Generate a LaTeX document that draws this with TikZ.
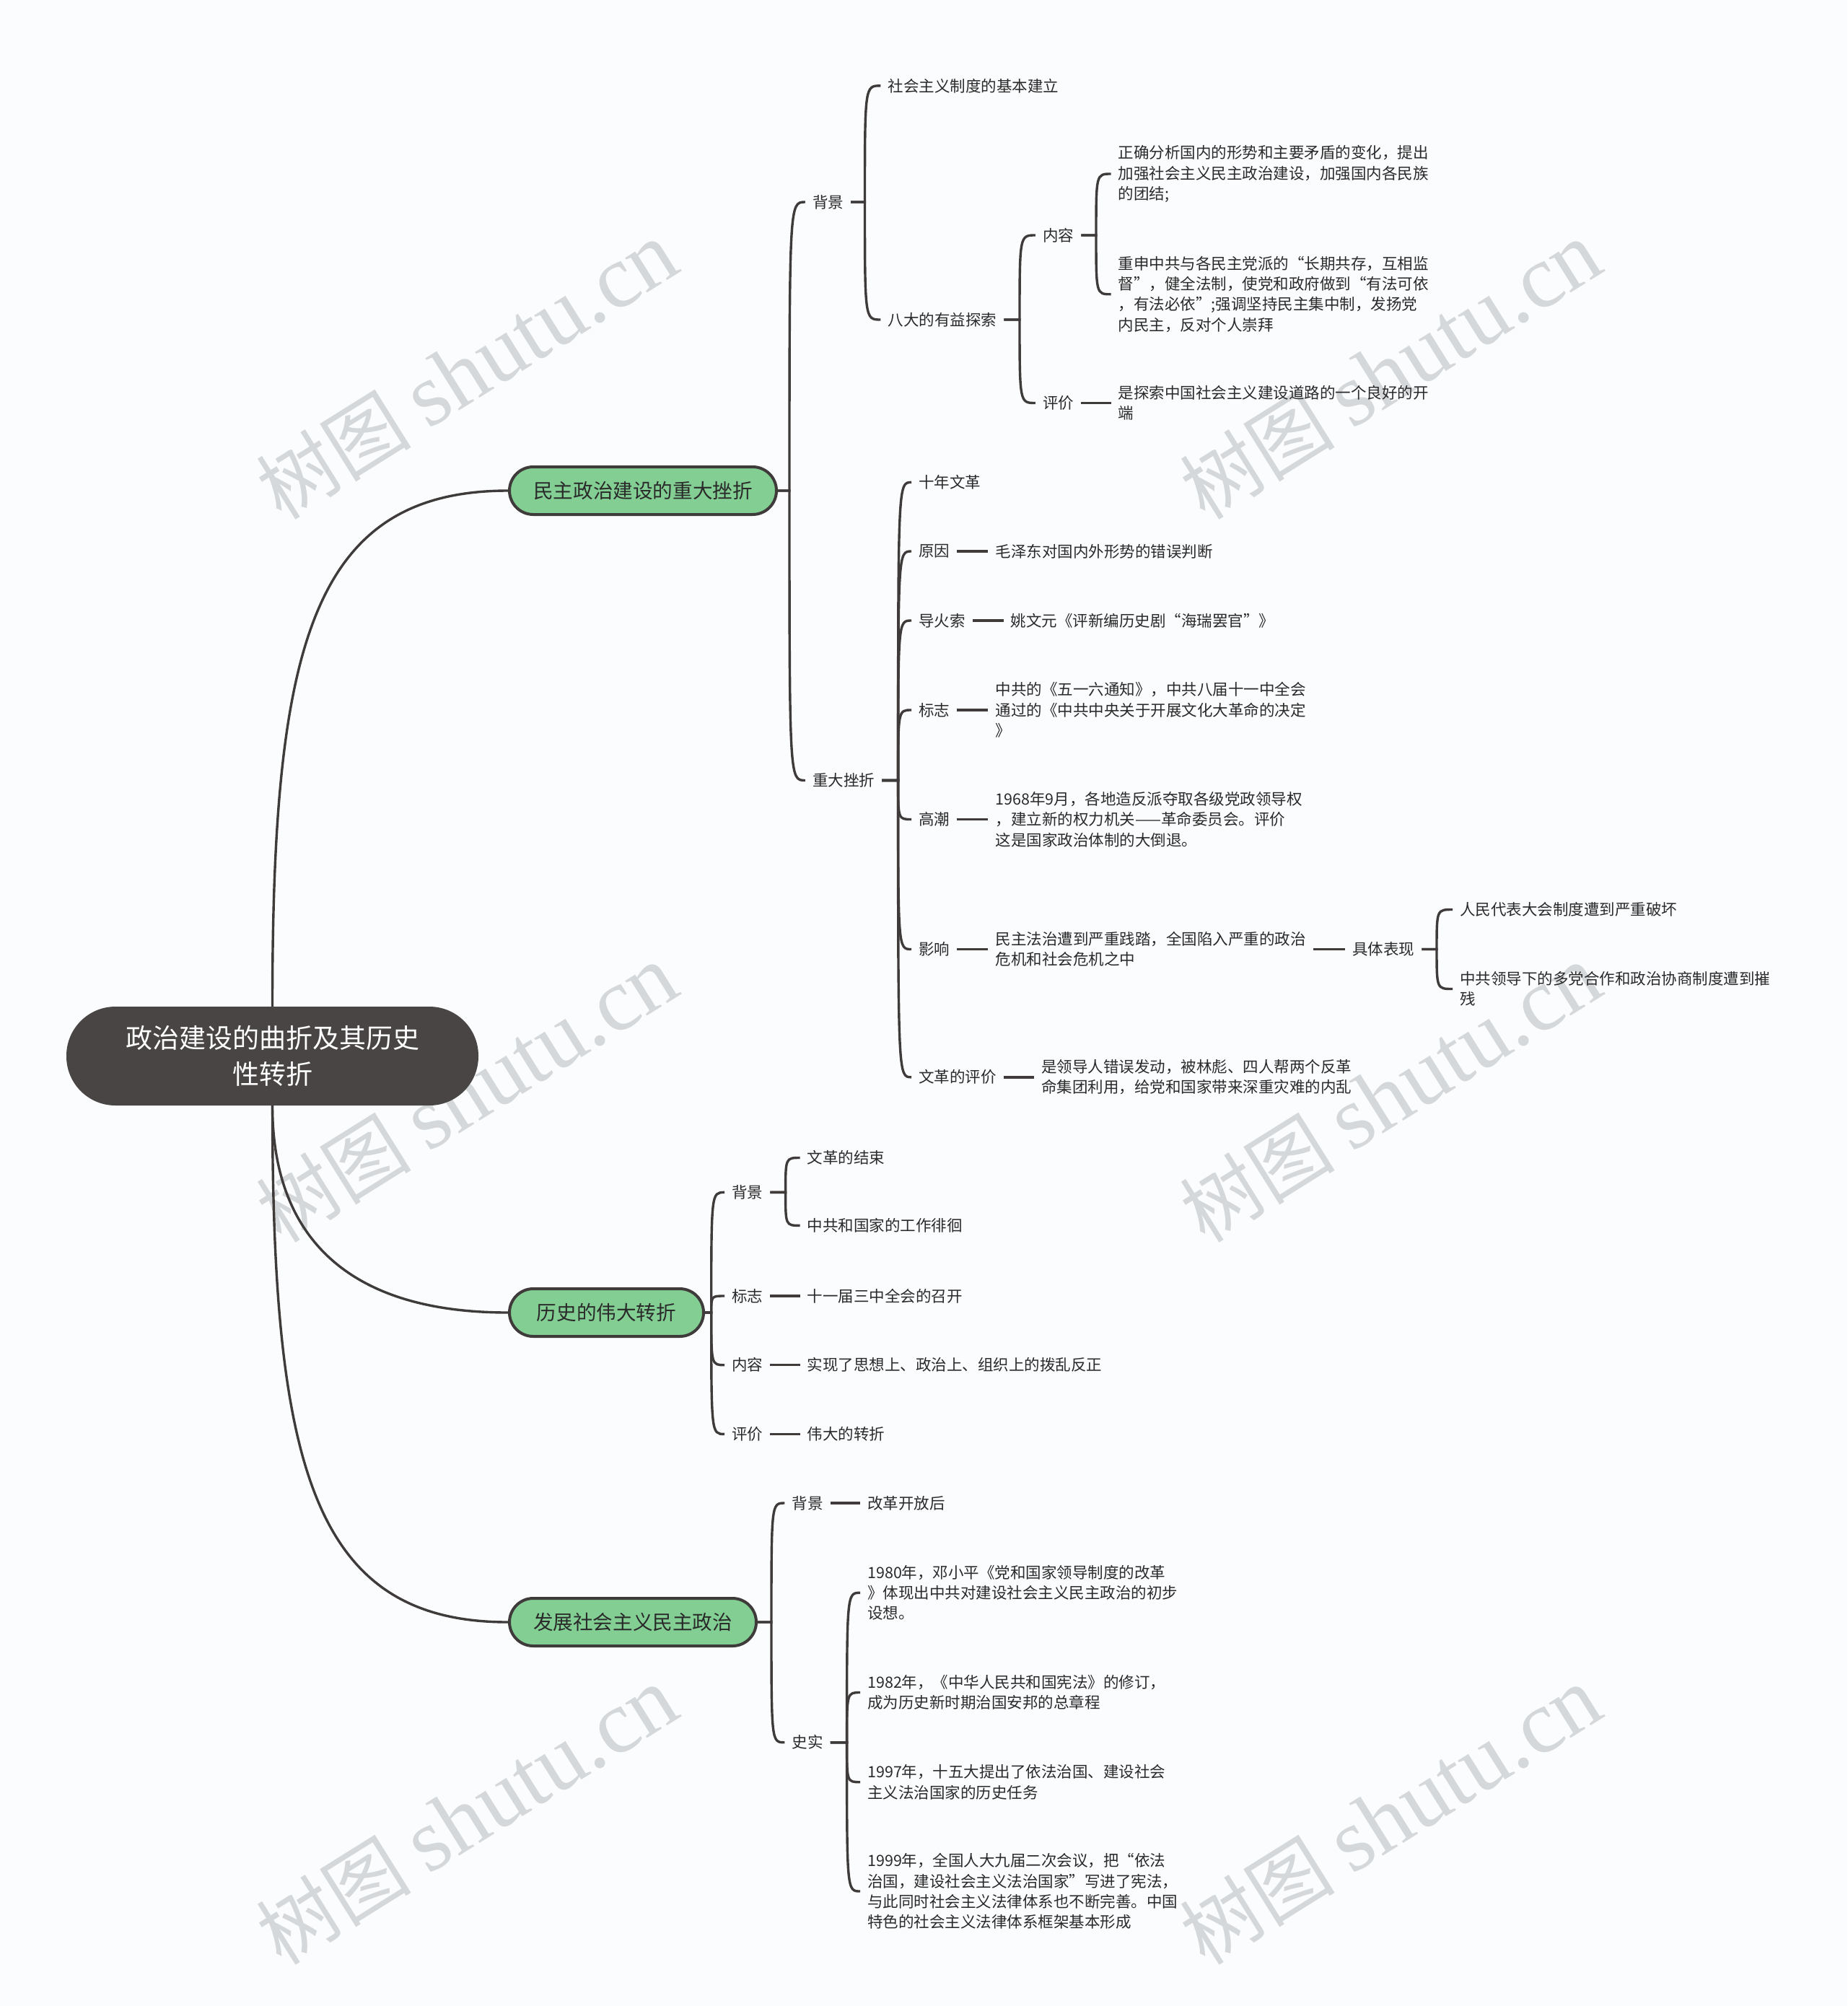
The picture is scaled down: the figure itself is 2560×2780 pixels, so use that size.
\documentclass[tikz,border=0pt]{standalone}
\usepackage{fontspec}
\setmainfont{Noto Sans CJK SC}
\newfontfamily\wmlat{Liberation Serif}
\usetikzlibrary{calc}
\definecolor{bgc}{HTML}{FBFCFE}
\definecolor{lnc}{HTML}{3F3B3B}
\definecolor{txc}{HTML}{2A2A2A}
\definecolor{gfill}{HTML}{82CE93}
\definecolor{rootfill}{HTML}{4A4545}
\definecolor{wmc}{HTML}{D5D8DA}
\newcommand\brc[3]{\draw[conn] (#1.east) -- (#2) .. controls (#2 |- #3.west) and (#2 |- #3.west) .. (#3.west);}
\newcommand\lnk[2]{\draw[conn] (#1.east) -- (#2.west);}
\begin{document}
\begin{tikzpicture}[x=1pt,y=-1pt,
  leaf/.style={anchor=west, inner xsep=10pt, inner ysep=3pt, align=left, text=txc, font=\fontsize{21.5}{28.4}\selectfont},
  topic/.style={anchor=west, rounded corners=33pt, draw=lnc, line width=4pt, fill=gfill, minimum height=66pt, inner xsep=30pt, text=txc, font=\fontsize{27.6}{34}\selectfont},
  conn/.style={draw=lnc, line width=3.4pt},
  wm/.style={rotate=32, text=wmc, font=\fontsize{108}{110}\selectfont}
]
\fill[bgc] (0,0) rectangle (2560,2780);
\useasboundingbox (0,0) rectangle (2560,2780);

% watermarks
\foreach \wx/\wy [count=\i] in {647/514, 1927/514, 647/1516, 1927/1516, 647/2517, 1927/2517}{
  \node[wm] (wm\i) at (\wx,\wy) {树图 {\wmlat\fontsize{124}{126}\selectfont shutu.cn}};
}

% root
\node[fill=rootfill, rounded corners=68pt, minimum width=571pt, minimum height=137pt, text=white, align=center, font=\fontsize{37}{49.6}\selectfont] (root) at (377.5,1463.5) {政治建设的曲折及其历史\\性转折};

% main topics
\node[topic, minimum width=370pt] (g1) at (704,680) {民主政治建设的重大挫折};
\node[topic, minimum width=269pt] (g2) at (704,1819) {历史的伟大转折};
\node[topic, minimum width=342pt] (g3) at (704,2248) {发展社会主义民主政治};

\draw[conn] (root.north) .. controls +(0,-495) and +(-274,0) .. (g1.west);
\draw[conn] (root.south) .. controls +(0,170) and +(-235,0) .. (g2.west);
\draw[conn] (root.south) .. controls +(0,500) and +(-270,0) .. (g3.west);

% ---------- branch 1
\coordinate (g1t) at (1094,680);
\node[leaf] (b1) at (1115.8,280) {背景};
\node[leaf] (zd) at (1115.8,1081.5) {重大挫折};
\brc{g1}{g1t}{b1}
\brc{g1}{g1t}{zd}

\coordinate (b1t) at (1198.5,280);
\node[leaf] (b1a) at (1220.4,118.8) {社会主义制度的基本建立};
\node[leaf] (b1b) at (1220.4,443) {八大的有益探索};
\brc{b1}{b1t}{b1a}
\brc{b1}{b1t}{b1b}

\coordinate (b1bt) at (1413,443);
\node[leaf] (nr) at (1434.9,326) {内容};
\node[leaf] (pj) at (1434.9,558.5) {评价};
\brc{b1b}{b1bt}{nr}
\brc{b1b}{b1bt}{pj}

\coordinate (nrt) at (1519,326);
\node[leaf] (nr1) at (1539.5,241) {正确分析国内的形势和主要矛盾的变化，提出\\加强社会主义民主政治建设，加强国内各民族\\的团结;};
\node[leaf] (nr2) at (1539.5,407.8) {重申中共与各民主党派的“长期共存，互相监\\督”，健全法制，使党和政府做到“有法可依\\，有法必依”;强调坚持民主集中制，发扬党\\内民主，反对个人崇拜};
\brc{nr}{nrt}{nr1}
\brc{nr}{nrt}{nr2}

\node[leaf] (pj1) at (1539.5,558.5) {是探索中国社会主义建设道路的一个良好的开\\端};
\lnk{pj}{pj1}

\coordinate (zdt) at (1244.6,1081.5);
\node[leaf] (sn) at (1263,668.4) {十年文革};
\node[leaf] (yy) at (1263,764) {原因};
\node[leaf] (dhs) at (1263,860) {导火索};
\node[leaf] (bz) at (1263,984) {标志};
\node[leaf] (gc) at (1263,1135.5) {高潮};
\node[leaf] (yx) at (1263,1315.5) {影响};
\node[leaf] (wp) at (1263,1492.8) {文革的评价};
\foreach \c in {sn,yy,dhs,bz,gc,yx,wp}{\brc{zd}{zdt}{\c}}

\node[leaf] (yy1) at (1369.3,764) {毛泽东对国内外形势的错误判断};
\node[leaf] (dhs1) at (1390.6,860) {姚文元《评新编历史剧“海瑞罢官”》};
\node[leaf] (bz1) at (1369.3,984) {中共的《五一六通知》，中共八届十一中全会\\通过的《中共中央关于开展文化大革命的决定\\》};
\node[leaf] (gc1) at (1369.3,1135.5) {1968年9月，各地造反派夺取各级党政领导权\\，建立新的权力机关——革命委员会。评价\\这是国家政治体制的大倒退。};
\node[leaf] (yx1) at (1369.3,1315.5) {民主法治遭到严重践踏，全国陷入严重的政治\\危机和社会危机之中};
\node[leaf] (wp1) at (1433,1492.8) {是领导人错误发动，被林彪、四人帮两个反革\\命集团利用，给党和国家带来深重灾难的内乱};
\lnk{yy}{yy1}
\lnk{dhs}{dhs1}
\lnk{bz}{bz1}
\lnk{gc}{gc1}
\lnk{yx}{yx1}
\lnk{wp}{wp1}

\node[leaf] (jt) at (1864,1315.5) {具体表现};
\lnk{yx1}{jt}
\coordinate (jtt) at (1991,1315.5);
\node[leaf] (jt1) at (2013,1260.5) {人民代表大会制度遭到严重破坏};
\node[leaf] (jt2) at (2013,1370.5) {中共领导下的多党合作和政治协商制度遭到摧\\残};
\brc{jt}{jtt}{jt1}
\brc{jt}{jtt}{jt2}

% ---------- branch 2
\coordinate (g2t) at (985.7,1819);
\node[leaf] (c1) at (1004,1652.4) {背景};
\node[leaf] (c2) at (1004,1796) {标志};
\node[leaf] (c3) at (1004,1891.7) {内容};
\node[leaf] (c4) at (1004,1987.4) {评价};
\foreach \c in {c1,c2,c3,c4}{\brc{g2}{g2t}{\c}}

\coordinate (c1t) at (1088.6,1652.4);
\node[leaf] (c1a) at (1108.7,1604.5) {文革的结束};
\node[leaf] (c1b) at (1108.7,1698.4) {中共和国家的工作徘徊};
\brc{c1}{c1t}{c1a}
\brc{c1}{c1t}{c1b}

\node[leaf] (c2a) at (1108.7,1796) {十一届三中全会的召开};
\node[leaf] (c3a) at (1108.7,1891.7) {实现了思想上、政治上、组织上的拨乱反正};
\node[leaf] (c4a) at (1108.7,1987.4) {伟大的转折};
\lnk{c2}{c2a}
\lnk{c3}{c3a}
\lnk{c4}{c4a}

% ---------- branch 3
\coordinate (g3t) at (1069,2248);
\node[leaf] (d1) at (1087.4,2083) {背景};
\node[leaf] (d2) at (1087.4,2414.7) {史实};
\brc{g3}{g3t}{d1}
\brc{g3}{g3t}{d2}

\node[leaf] (d1a) at (1192,2083) {改革开放后};
\lnk{d1}{d1a}

\coordinate (d2t) at (1173.6,2414.7);
\node[leaf] (d2a) at (1192,2207.3) {1980年，邓小平《党和国家领导制度的改革\\》体现出中共对建设社会主义民主政治的初步\\设想。};
\node[leaf] (d2b) at (1192,2345.5) {1982年，《中华人民共和国宪法》的修订，\\成为历史新时期治国安邦的总章程};
\node[leaf] (d2c) at (1192,2469.7) {1997年，十五大提出了依法治国、建设社会\\主义法治国家的历史任务};
\node[leaf] (d2d) at (1192,2621) {1999年，全国人大九届二次会议，把“依法\\治国，建设社会主义法治国家”写进了宪法，\\与此同时社会主义法律体系也不断完善。中国\\特色的社会主义法律体系框架基本形成};
\foreach \c in {d2a,d2b,d2c,d2d}{\brc{d2}{d2t}{\c}}
\end{tikzpicture}
\end{document}
